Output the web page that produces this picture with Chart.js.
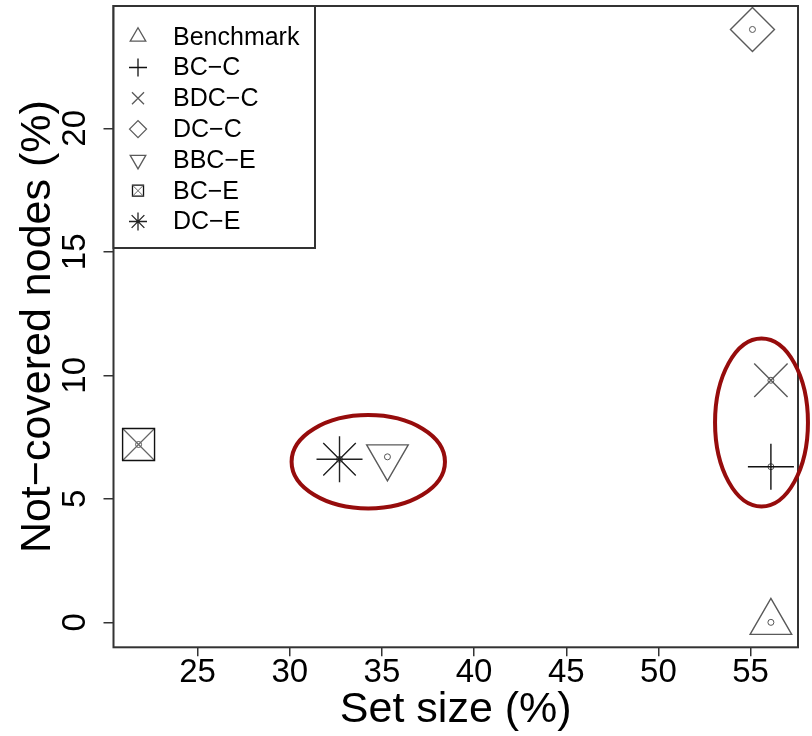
<!DOCTYPE html>
<html>
<head>
<meta charset="utf-8">
<title>Set size vs. not-covered nodes</title>
<script src="https://cdn.jsdelivr.net/npm/chart.js@4.4.1/dist/chart.umd.min.js"></script>
<style>
  html, body { margin: 0; padding: 0; background: #ffffff; }
  canvas { display: block; }
</style>
</head>
<body>
<canvas id="chart" width="812" height="736"></canvas>
<script>
// ---- data ----
const seriesNames = ['Benchmark', 'BC\u2212C', 'BDC\u2212C', 'DC\u2212C', 'BBC\u2212E', 'BC\u2212E', 'DC\u2212E'];
const setSize     = [56.1, 56.1, 56.1, 55.1, 35.3, 21.8, 32.7];   // Set size (%)
const notCovered  = [0.0, 6.3, 9.8, 24.0, 6.7, 7.2, 6.6];        // Not-covered nodes (%)
const xTicks = [25, 30, 35, 40, 45, 50, 55];
const yTicks = [0, 5, 10, 15, 20];

// highlighted groups (ellipses), in axis units: centre x, centre y, half-width, half-height
const groupCx = [34.26, 55.59];
const groupCy = [6.50, 8.09];
const groupRx = [4.16, 2.52];
const groupRy = [1.89, 3.40];

// ---- marker styles ----
const markerStyle = [
  { style: 'triangle', r: 24,   rot: 0,   legendR: 9,   ink: '#5a5a5a' },
  { style: 'cross',    r: 23,   rot: 0,   legendR: 9,   ink: '#111111' },
  { style: 'crossRot', r: 23.6, rot: 0,   legendR: 8.5, ink: '#5a5a5a' },
  { style: 'rectRot',  r: 22,   rot: 0,   legendR: 8.5, ink: '#5a5a5a' },
  { style: 'triangle', r: 24,   rot: 180, legendR: 9,   ink: '#5a5a5a' },
  { style: 'rect',     r: 22.6, rot: 0,   legendR: 10,  ink: '#111111', boxed: true },
  { style: 'star',     r: 23,   rot: 0,   legendR: 9,   ink: '#222222' }
];

const FONT = '"Liberation Sans", Arial, Helvetica, sans-serif';

const datasets = seriesNames.map((name, i) => ({
  label: name,
  data: [{ x: setSize[i], y: notCovered[i] }],
  pointStyle: markerStyle[i].style,
  pointRadius: markerStyle[i].r,
  pointRotation: markerStyle[i].rot,
  pointBorderColor: markerStyle[i].ink,
  pointBackgroundColor: 'rgba(0,0,0,0)',
  pointBorderWidth: 1.4,
  showLine: false
}));

// diagonal cross inside the boxed marker
markerStyle.forEach((m, i) => {
  if (!m.boxed) return;
  datasets.push({
    label: '_boxcross',
    data: [{ x: setSize[i], y: notCovered[i] }],
    pointStyle: 'crossRot',
    pointRadius: m.r,
    pointBorderColor: '#666666',
    pointBorderWidth: 1.2,
    showLine: false
  });
});

// small open circle at each point's centre
datasets.push({
  label: '_centres',
  data: setSize.map((x, i) => ({ x: x, y: notCovered[i] })),
  pointStyle: 'circle',
  pointRadius: 3,
  pointBorderColor: '#555555',
  pointBackgroundColor: 'rgba(0,0,0,0)',
  pointBorderWidth: 1,
  showLine: false
});

// plot frame, rotated y tick labels, legend box and ellipses
const decorations = {
  id: 'decorations',
  afterDraw(chart) {
    const ctx = chart.ctx;
    const area = chart.chartArea;
    const xs = chart.scales.x, ys = chart.scales.y;

    // frame
    ctx.save();
    ctx.strokeStyle = '#333333';
    ctx.lineWidth = 2;
    ctx.strokeRect(area.left, area.top, area.right - area.left, area.bottom - area.top);
    ctx.restore();

    // y tick labels, parallel to the axis
    ctx.save();
    ctx.fillStyle = '#000000';
    ctx.font = '33px ' + FONT;
    ctx.textAlign = 'center';
    ctx.textBaseline = 'alphabetic';
    yTicks.forEach(v => {
      const py = ys.getPixelForValue(v);
      ctx.save();
      ctx.translate(area.left - 29, py);
      ctx.rotate(-Math.PI / 2);
      ctx.fillText(String(v), 0, 0);
      ctx.restore();
    });
    ctx.restore();

    // legend
    const lx = area.left, ly = area.top;
    const lw = 201.5, lh = 242;
    ctx.save();
    ctx.fillStyle = '#ffffff';
    ctx.fillRect(lx, ly, lw, lh);
    ctx.strokeStyle = '#333333';
    ctx.lineWidth = 2;
    ctx.strokeRect(lx, ly, lw, lh);
    ctx.font = '25px ' + FONT;
    ctx.textAlign = 'left';
    ctx.textBaseline = 'middle';
    seriesNames.forEach((name, i) => {
      const cy = ly + 30.7 + i * 30.8;
      const cx = lx + 24.5;
      const m = markerStyle[i];
      ctx.fillStyle = 'rgba(0,0,0,0)';
      ctx.strokeStyle = m.ink;
      ctx.lineWidth = 1.3;
      if (m.boxed) {
        Chart.helpers.drawPoint(ctx, { pointStyle: 'rect', radius: m.legendR * 0.78, rotation: 0, borderWidth: 1.6 }, cx, cy);
        ctx.strokeStyle = '#666666';
        ctx.lineWidth = 1;
        Chart.helpers.drawPoint(ctx, { pointStyle: 'crossRot', radius: m.legendR * 0.78, rotation: 0, borderWidth: 1 }, cx, cy);
      } else {
        Chart.helpers.drawPoint(ctx, { pointStyle: m.style, radius: m.legendR, rotation: m.rot, borderWidth: 1.3 }, cx, cy);
      }
      ctx.fillStyle = '#000000';
      ctx.fillText(name, lx + 59.5, cy + 1);
    });
    ctx.restore();

    // highlighted groups
    ctx.save();
    ctx.strokeStyle = '#960c0c';
    ctx.lineWidth = 4;
    groupCx.forEach((gx, i) => {
      const cx = xs.getPixelForValue(gx);
      const cy = ys.getPixelForValue(groupCy[i]);
      const rx = Math.abs(xs.getPixelForValue(gx + groupRx[i]) - cx);
      const ry = Math.abs(ys.getPixelForValue(groupCy[i] + groupRy[i]) - cy);
      ctx.beginPath();
      ctx.ellipse(cx, cy, rx, ry, 0, 0, Math.PI * 2);
      ctx.stroke();
    });
    ctx.restore();
  }
};

new Chart(document.getElementById('chart'), {
  type: 'scatter',
  data: { datasets: datasets },
  plugins: [decorations],
  options: {
    responsive: false,
    animation: false,
    devicePixelRatio: 1,
    layout: { autoPadding: false, padding: { top: 6, right: 14, left: 0, bottom: 0 } },
    plugins: {
      legend: { display: false },
      tooltip: { enabled: false }
    },
    scales: {
      x: {
        type: 'linear',
        min: 20.44,
        max: 57.57,
        afterBuildTicks: s => { s.ticks = xTicks.map(v => ({ value: v })); },
        afterFit: s => { s.height = 88.7; },
        border: { display: false },
        grid: { drawOnChartArea: false, drawTicks: true, tickLength: 9, color: '#333333', lineWidth: 1.5 },
        ticks: {
          color: '#000000',
          padding: 3,
          maxRotation: 0,
          autoSkip: false,
          font: { family: FONT, size: 33, lineHeight: 0.8 }
        },
        title: {
          display: true,
          text: 'Set size (%)',
          color: '#000000',
          padding: { top: 0, bottom: 0 },
          font: { family: FONT, size: 43, lineHeight: 1.2 }
        }
      },
      y: {
        type: 'linear',
        min: -1.01,
        max: 24.95,
        afterBuildTicks: s => { s.ticks = yTicks.map(v => ({ value: v })); },
        afterFit: s => { s.width = 113.5; },
        border: { display: false },
        grid: { drawOnChartArea: false, drawTicks: true, tickLength: 10, color: '#333333', lineWidth: 1.5 },
        ticks: { display: false },
        title: {
          display: true,
          text: 'Not\u2212covered nodes (%)',
          color: '#000000',
          padding: { top: 12, bottom: 0 },
          font: { family: FONT, size: 43, lineHeight: 1.2 }
        }
      }
    }
  }
});
</script>
</body>
</html>
